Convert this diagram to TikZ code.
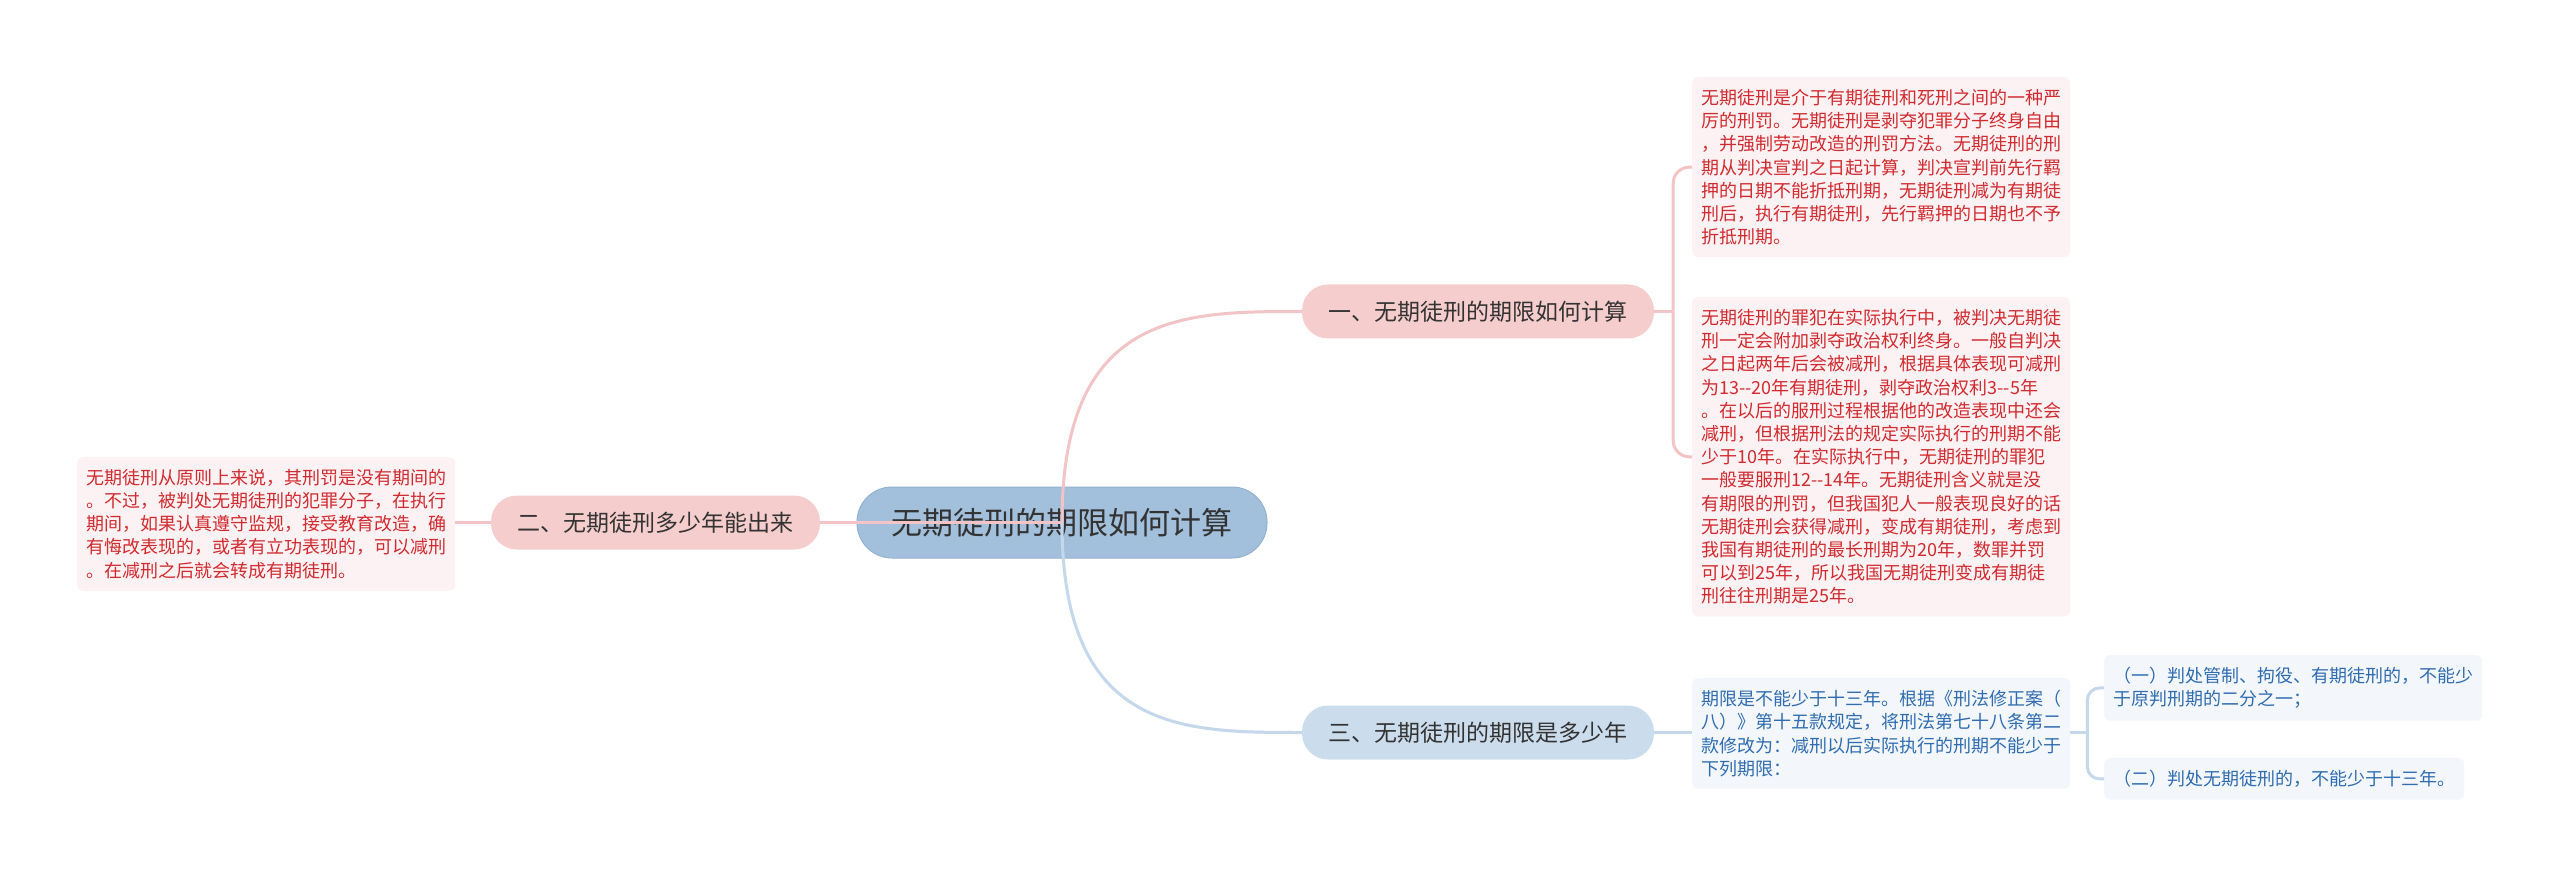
\documentclass[tikz,border=0pt]{standalone}
\usepackage{fontspec}
\newfontfamily\cjk{Noto Sans CJK SC}
\usetikzlibrary{calc}
\definecolor{pinkline}{HTML}{F2C4C6}
\definecolor{blueline}{HTML}{C5D7EA}
\definecolor{pinknode}{HTML}{F6CDCD}
\definecolor{bluenode}{HTML}{CBDCEC}
\definecolor{centerfill}{HTML}{A2BFDB}
\definecolor{centerdraw}{HTML}{92B2D2}
\definecolor{pinkbox}{HTML}{FDF2F3}
\definecolor{bluebox}{HTML}{F3F7FC}
\definecolor{redtext}{HTML}{D12A2F}
\definecolor{bluetext}{HTML}{2F6CB0}
\definecolor{maintext}{HTML}{333333}
\tikzset{
  topic/.style={font=\cjk\fontsize{23}{28}\selectfont, text=maintext, minimum height=54pt, rounded corners=26pt, inner sep=0pt},
  pinktopic/.style={topic, fill=pinknode},
  bluetopic/.style={topic, fill=bluenode},
  txtbox/.style={font=\cjk\fontsize{18}{23.2}\selectfont, rounded corners=6pt, inner xsep=9pt, inner ysep=12pt, align=left, anchor=north west},
  redbox/.style={txtbox, fill=pinkbox, text=redtext},
  bluebox/.style={txtbox, fill=bluebox, text=bluetext},
  pinkconn/.style={draw=pinkline, line width=3pt},
  blueconn/.style={draw=blueline, line width=3pt},
}
\begin{document}
\begin{tikzpicture}[x=1pt,y=-1pt]
\useasboundingbox (0,0) rectangle (2560,877);
\fill[white] (0,0) rectangle (2560,877);

\node[fill=centerfill, draw=centerdraw, line width=1pt, minimum width=410pt, minimum height=71pt, rounded corners=35pt, inner sep=0pt, font=\cjk\fontsize{31}{36}\selectfont, text=maintext] (c) at (1062,522.5) {无期徒刑的期限如何计算};

\node[pinktopic, minimum width=352pt] (n1) at (1478,311.5) {一、无期徒刑的期限如何计算};
\node[pinktopic, minimum width=329pt] (n2) at (655.5,522.5) {二、无期徒刑多少年能出来};
\node[bluetopic, minimum width=352pt] (n3) at (1478,732.5) {三、无期徒刑的期限是多少年};

\node[redbox, text width=360pt] (A) at (1692,77) {无期徒刑是介于有期徒刑和死刑之间的一种严\\厉的刑罚。无期徒刑是剥夺犯罪分子终身自由\\，并强制劳动改造的刑罚方法。无期徒刑的刑\\期从判决宣判之日起计算，判决宣判前先行羁\\押的日期不能折抵刑期，无期徒刑减为有期徒\\刑后，执行有期徒刑，先行羁押的日期也不予\\折抵刑期。};

\node[redbox, text width=360pt] (B) at (1692,297) {无期徒刑的罪犯在实际执行中，被判决无期徒\\刑一定会附加剥夺政治权利终身。一般自判决\\之日起两年后会被减刑，根据具体表现可减刑\\为13--20年有期徒刑，剥夺政治权利3--5年\\。在以后的服刑过程根据他的改造表现中还会\\减刑，但根据刑法的规定实际执行的刑期不能\\少于10年。在实际执行中，无期徒刑的罪犯\\一般要服刑12--14年。无期徒刑含义就是没\\有期限的刑罚，但我国犯人一般表现良好的话\\无期徒刑会获得减刑，变成有期徒刑，考虑到\\我国有期徒刑的最长刑期为20年，数罪并罚\\可以到25年，所以我国无期徒刑变成有期徒\\刑往往刑期是25年。};

\node[redbox, text width=360pt] (L) at (77,457) {无期徒刑从原则上来说，其刑罚是没有期间的\\。不过，被判处无期徒刑的犯罪分子，在执行\\期间，如果认真遵守监规，接受教育改造，确\\有悔改表现的，或者有立功表现的，可以减刑\\。在减刑之后就会转成有期徒刑。};

\node[bluebox, text width=360pt] (C) at (1692,678) {期限是不能少于十三年。根据《刑法修正案（\\八）》第十五款规定，将刑法第七十八条第二\\款修改为：减刑以后实际执行的刑期不能少于\\下列期限：};

\node[bluebox, text width=360pt] (D1) at (2104,655) {（一）判处管制、拘役、有期徒刑的，不能少\\于原判刑期的二分之一；};
\node[bluebox, text width=342pt] (D2) at (2104,758) {（二）判处无期徒刑的，不能少于十三年。};

% main connectors (drawn over the central node)
\draw[pinkconn] (c.center) .. controls (c.center |- n1.west) and ($(c.center |- n1.west)!0.5!(n1.west)$) .. (n1.west);
\draw[blueconn] (c.center) .. controls (c.center |- n3.west) and ($(c.center |- n3.west)!0.5!(n3.west)$) .. (n3.west);
\draw[pinkconn] (c.center) -- (n2.east);

% branch connectors
\draw[pinkconn] (n2.west) -- (L.east |- n2.west);
\draw[pinkconn] (n1.east) -- ++(19,0) coordinate (b1);
\draw[pinkconn, rounded corners=16pt] (b1) |- (A.west);
\draw[pinkconn, rounded corners=16pt] (b1) |- (B.west);
\draw[blueconn] (n3.east) -- (C.west |- n3.east);
\draw[blueconn] (C.east |- n3.east) -- ++(17,0) coordinate (b3);
\draw[blueconn, rounded corners=12pt] (b3) |- (D1.west);
\draw[blueconn, rounded corners=12pt] (b3) |- (D2.west);
\end{tikzpicture}
\end{document}
